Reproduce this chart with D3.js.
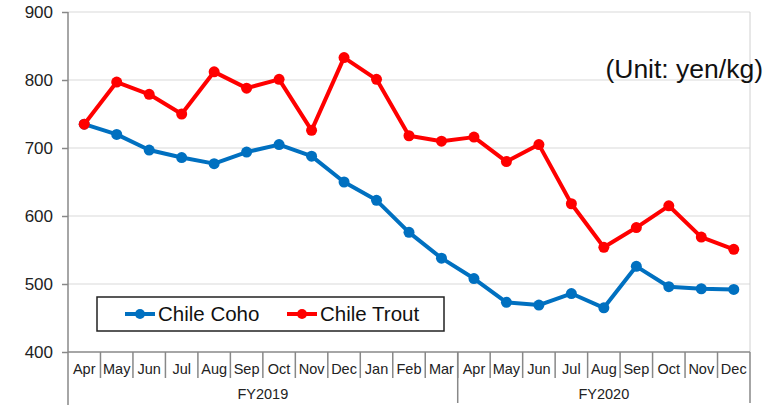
<html>
<head>
<script src="https://cdn.jsdelivr.net/npm/d3@7"></script>
<style>
  body { margin: 0; background: #fff; }
  text { font-family: "Liberation Sans", Arial, sans-serif; fill: #222; }
</style>
</head>
<body>
<script>
// months along the x axis, two fiscal years
var months = ["Apr","May","Jun","Jul","Aug","Sep","Oct","Nov","Dec","Jan","Feb","Mar",
              "Apr","May","Jun","Jul","Aug","Sep","Oct","Nov","Dec"];
var fyLabels = ["FY2019", "FY2020"];
var fyLengths = [12, 9];
var yTicks = [400, 500, 600, 700, 800, 900];

var cohoValues  = [735, 720, 697, 686, 677, 694, 705, 688, 650, 623, 576, 538,
                   508, 473, 469, 486, 465, 526, 496, 493, 492];
var troutValues = [735, 797, 779, 750, 812, 788, 801, 726, 833, 801, 718, 710,
                   716, 680, 705, 618, 554, 583, 615, 569, 551];

var seriesNames = ["Chile Coho", "Chile Trout"];
var colors = ["#0070C0", "#FF0000"];

var W = 781, H = 405;
var mLeft = 68, mRight = 750, mTop = 12, mBottom = 352;

var svg = d3.select("body").append("svg")
  .attr("width", W).attr("height", H);

var idx = d3.range(months.length);
var x = d3.scaleBand().domain(idx).range([mLeft, mRight]).padding(0);
var y = d3.scaleLinear().domain([400, 900]).range([mBottom, mTop]);

// gridlines
svg.append("g").selectAll("line").data(yTicks.slice(1)).enter().append("line")
  .attr("x1", mLeft).attr("x2", mRight)
  .attr("y1", function(d){ return y(d); }).attr("y2", function(d){ return y(d); })
  .attr("stroke", "#d9d9d9").attr("stroke-width", 1);

// right border
svg.append("line").attr("x1", mRight).attr("x2", mRight)
  .attr("y1", mTop).attr("y2", mBottom)
  .attr("stroke", "#d0d0d0").attr("stroke-width", 1);

// y axis
var yAxis = d3.axisLeft(y).tickValues(yTicks).tickSize(6).tickPadding(9);
var gy = svg.append("g").attr("transform", "translate(" + mLeft + ",0)").call(yAxis);
gy.select(".domain").remove();
gy.selectAll(".tick line").attr("stroke", "#888").attr("stroke-width", 1.5);
gy.selectAll(".tick text").style("font-size", "17px").style("fill", "#222")
  .style("font-family", "Liberation Sans, Arial, sans-serif");

// axes lines
svg.append("line").attr("x1", mLeft).attr("x2", mLeft).attr("y1", mTop).attr("y2", H)
  .attr("stroke", "#888").attr("stroke-width", 1.5);
svg.append("line").attr("x1", mLeft).attr("x2", mRight).attr("y1", mBottom).attr("y2", mBottom)
  .attr("stroke", "#888").attr("stroke-width", 1.5);
svg.append("line").attr("x1", mRight).attr("x2", mRight).attr("y1", mBottom).attr("y2", H - 2)
  .attr("stroke", "#888").attr("stroke-width", 1.5);

// month dividers and labels
svg.append("g").selectAll("line").data(idx.slice(1)).enter().append("line")
  .attr("x1", function(d){ return x(d); }).attr("x2", function(d){ return x(d); })
  .attr("y1", mBottom).attr("y2", 378)
  .attr("stroke", "#888").attr("stroke-width", 1.5);
svg.append("g").selectAll("text").data(idx).enter().append("text")
  .attr("x", function(d){ return x(d) + x.bandwidth() / 2; })
  .attr("y", 374)
  .attr("text-anchor", "middle")
  .style("font-size", "14.5px")
  .text(function(d){ return months[d]; });

// fiscal year groups
var start = 0;
fyLabels.forEach(function(lab, i) {
  var x0 = x(start), x1 = x(start + fyLengths[i] - 1) + x.bandwidth();
  if (i > 0) {
    svg.append("line").attr("x1", x0).attr("x2", x0).attr("y1", mBottom).attr("y2", H - 2)
      .attr("stroke", "#888").attr("stroke-width", 1.5);
  }
  svg.append("text").attr("x", (x0 + x1) / 2).attr("y", 399)
    .attr("text-anchor", "middle").style("font-size", "14.5px").text(lab);
  start += fyLengths[i];
});

// lines
var line = d3.line()
  .x(function(d, i){ return x(i) + x.bandwidth() / 2; })
  .y(function(d){ return y(d); });

[cohoValues, troutValues].forEach(function(vals, s) {
  svg.append("path").datum(vals).attr("d", line)
    .attr("fill", "none").attr("stroke", colors[s]).attr("stroke-width", 4)
    .attr("stroke-linejoin", "round");
  svg.append("g").selectAll("circle").data(vals).enter().append("circle")
    .attr("cx", function(d, i){ return x(i) + x.bandwidth() / 2; })
    .attr("cy", function(d){ return y(d); })
    .attr("r", 5.5).attr("fill", colors[s]);
});

// unit label
svg.append("text").attr("x", 763).attr("y", 78).attr("text-anchor", "end")
  .style("font-size", "26.5px").style("fill", "#111").text("(Unit: yen/kg)");

// legend
var lg = svg.append("g");
lg.append("rect").attr("x", 97).attr("y", 297).attr("width", 347).attr("height", 34)
  .attr("fill", "#fff").attr("stroke", "#222").attr("stroke-width", 1.5);
var legX = [125, 287];
seriesNames.forEach(function(name, s) {
  lg.append("line").attr("x1", legX[s]).attr("x2", legX[s] + 30)
    .attr("y1", 314).attr("y2", 314).attr("stroke", colors[s]).attr("stroke-width", 4);
  lg.append("circle").attr("cx", legX[s] + 15).attr("cy", 314).attr("r", 5).attr("fill", colors[s]);
  lg.append("text").attr("x", legX[s] + 33).attr("y", 321)
    .style("font-size", "20.5px").style("fill", "#111").text(name);
});
</script>
</body>
</html>
